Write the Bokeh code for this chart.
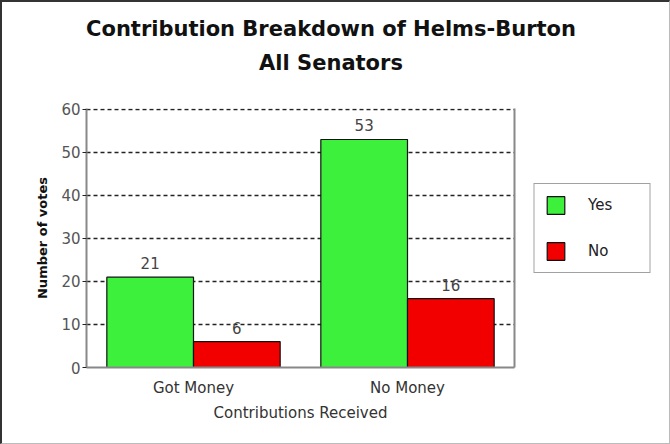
from bokeh.plotting import figure
from bokeh.layouts import row, column
from bokeh.models import (ColumnDataSource, FactorRange, Legend, LegendItem, Title,
                          FixedTicker, LinearAxis, Range1d)
from bokeh.transform import dodge
from bokeh.embed import file_html
from bokeh.resources import INLINE
from bokeh.core.properties import value

categories = ["Got Money", "No Money"]
yes_votes = [21, 53]
no_votes = [6, 16]
series = ["Yes", "No"]
y_ticks = [0, 10, 20, 30, 40, 50, 60]
title_lines = ["Contribution Breakdown of Helms-Burton", "All Senators"]

GREEN = "#3cf03c"
RED = "#f20000"
FONT = "DejaVu Sans"

src = ColumnDataSource(dict(cat=categories, yes=yes_votes, no=no_votes,
                            yes_txt=[str(v) for v in yes_votes],
                            no_txt=[str(v) for v in no_votes]))

# ---- title strip ----
tf = figure(width=667, height=80, x_range=(0, 1), y_range=(0, 1),
            output_backend="svg", toolbar_location=None,
            min_border_left=0, min_border_right=10, min_border_top=76, min_border_bottom=0)
tf.axis.visible = False
tf.grid.grid_line_color = None
tf.outline_line_color = None
tf.add_layout(Title(text=title_lines[1], align="center", text_font=FONT,
                    text_font_size="21px", text_font_style="bold", text_color="#111",
                    standoff=8), "above")
tf.add_layout(Title(text=title_lines[0], align="center", text_font=FONT,
                    text_font_size="21px", text_font_style="bold", text_color="#111",
                    standoff=8), "above")

# ---- main plot ----
p = figure(x_range=FactorRange(factors=categories, range_padding=0),
           y_range=Range1d(0, 60.2), width=522, height=361,
           output_backend="svg", toolbar_location=None,
           min_border_left=84, min_border_right=10, min_border_top=26, min_border_bottom=76)

bw = 0.405
off = bw / 2
r_yes = p.vbar(x=dodge("cat", -off, range=p.x_range), top="yes", width=bw, source=src,
               fill_color=GREEN, line_color="#111", line_width=1.2)
r_no = p.vbar(x=dodge("cat", off, range=p.x_range), top="no", width=bw, source=src,
              fill_color=RED, line_color="#111", line_width=1.2)

for col, txt, d in [("yes", "yes_txt", -off), ("no", "no_txt", off)]:
    p.text(x=dodge("cat", d, range=p.x_range), y=col, text=txt, source=src,
           text_align="center", text_baseline="bottom", y_offset=-8,
           text_font=value(FONT), text_font_size="15px", text_color="#444")

p.xgrid.grid_line_color = None
p.ygrid.ticker = FixedTicker(ticks=y_ticks)
p.ygrid.grid_line_color = "#222"
p.ygrid.grid_line_dash = "4 3"
p.ygrid.grid_line_width = 1.3
p.outline_line_color = None
p.background_fill_color = "white"

p.yaxis.ticker = FixedTicker(ticks=y_ticks)
p.yaxis.axis_label = "Number of votes"
p.yaxis.axis_label_text_font = FONT
p.yaxis.axis_label_text_font_style = "bold"
p.yaxis.axis_label_text_font_size = "13px"
p.yaxis.axis_label_text_color = "#111"
p.yaxis.axis_label_standoff = 8
p.yaxis.major_label_text_font = FONT
p.yaxis.major_label_text_font_size = "15px"
p.yaxis.major_label_text_color = "#555"
p.yaxis.major_label_standoff = 2
p.yaxis.axis_line_color = "#888"
p.yaxis.axis_line_width = 2
p.yaxis.major_tick_line_color = "#222"
p.yaxis.major_tick_out = 4
p.yaxis.major_tick_in = 0
p.yaxis.minor_tick_line_color = None

p.xaxis.axis_label = "Contributions Received"
p.xaxis.axis_label_text_font = FONT
p.xaxis.axis_label_text_font_style = "normal"
p.xaxis.axis_label_text_font_size = "15px"
p.xaxis.axis_label_text_color = "#333"
p.xaxis.axis_label_standoff = 4
p.xaxis.major_label_text_font = FONT
p.xaxis.major_label_text_font_size = "15px"
p.xaxis.major_label_text_color = "#333"
p.xaxis.axis_line_color = "#888"
p.xaxis.axis_line_width = 2
p.xaxis.major_tick_line_color = None
p.xaxis.minor_tick_line_color = None
p.xaxis.major_label_standoff = 5

ra = LinearAxis(ticker=FixedTicker(ticks=[]), axis_line_color="#888", axis_line_width=2,
                major_tick_line_color=None, minor_tick_line_color=None,
                major_label_text_font_size="0px")
p.add_layout(ra, "right")

# ---- legend panel: its renderers are hidden, only the legend is shown ----
p2 = figure(width=145, height=361, x_range=FactorRange(factors=categories),
            y_range=Range1d(1000, 2000), output_backend="svg", toolbar_location=None,
            min_border_left=0, min_border_right=10, min_border_top=0, min_border_bottom=71)
p2.axis.visible = False
p2.grid.grid_line_color = None
p2.outline_line_color = None
l_yes = p2.vbar(x="cat", top="yes", width=0.3, source=src,
                fill_color=GREEN, line_color="#111", line_width=1.2, visible=False)
l_no = p2.vbar(x="cat", top="no", width=0.3, source=src,
               fill_color=RED, line_color="#111", line_width=1.2, visible=False)
legend = Legend(items=[LegendItem(label=series[0], renderers=[l_yes]),
                       LegendItem(label=series[1], renderers=[l_no])],
                location="top_center", orientation="vertical",
                glyph_width=22, glyph_height=22, spacing=24,
                label_standoff=22, padding=10, margin=75, label_width=51,
                label_text_font=FONT, label_text_font_size="15px", label_text_color="#222",
                border_line_color="#444", border_line_width=1.5,
                background_fill_color="white", inactive_fill_alpha=0)
p2.add_layout(legend, "center")

layout = column(tf, row(p, p2, spacing=0), spacing=0,
                styles={"border-top": "2px solid #333", "border-left": "2px solid #333",
                        "border-right": "1px solid #bbb", "border-bottom": "1px solid #bbb"})

open("out.html", "w").write(file_html(layout, INLINE))
